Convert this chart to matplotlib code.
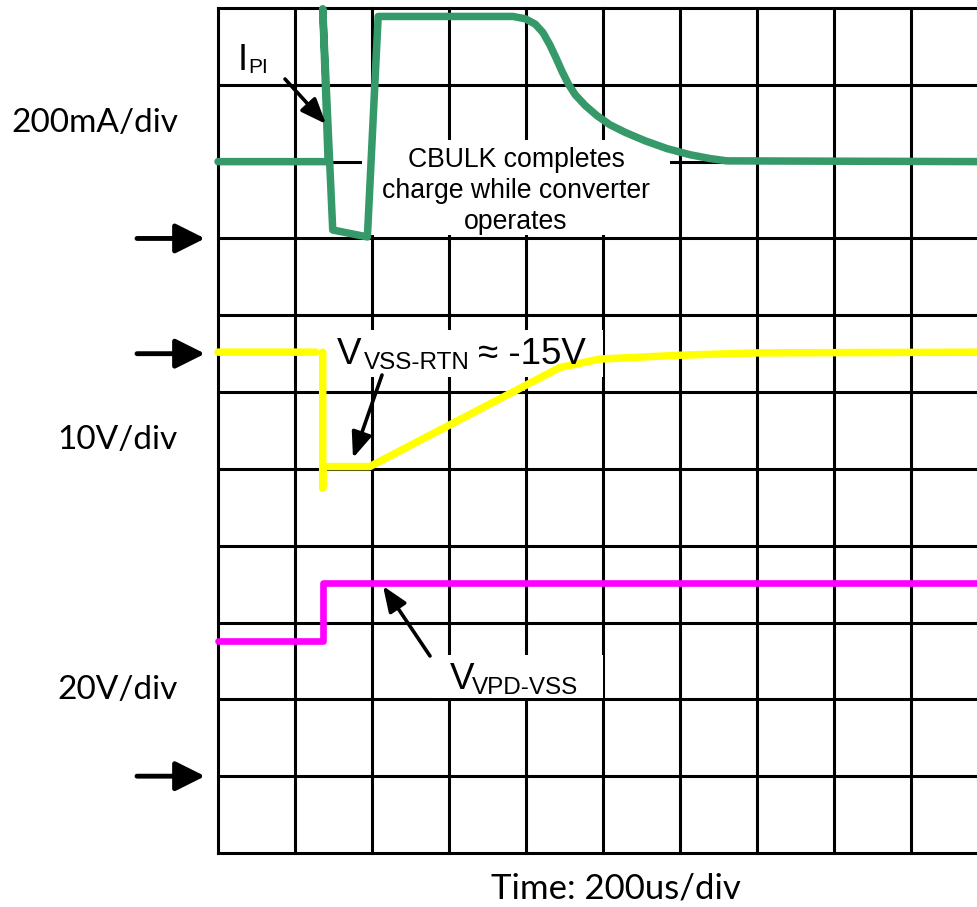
import numpy as np
import matplotlib
matplotlib.use("Agg")
import matplotlib.pyplot as plt
import matplotlib.transforms as mtransforms
from matplotlib.patches import Rectangle

# ---- data (in screen divisions) ----
t_ipi = [0, 1.43, 1.36, 1.49, 1.94, 2.08, 3.83, 3.99, 4.12, 4.22, 4.31, 4.39,
         4.47, 4.55, 4.64, 4.77, 4.92, 5.09, 5.29, 5.55, 5.83, 6.13, 6.39, 6.61, 10]
ipi = [9.0, 9.0, 10.99, 8.11, 8.02, 10.89, 10.89, 10.86, 10.79, 10.68, 10.52, 10.35,
       10.17, 10.01, 9.87, 9.73, 9.60, 9.48, 9.38, 9.27, 9.17, 9.09, 9.04, 9.01, 9.0]

t_vss = [0, 1.27, np.nan, 1.36, 1.36, 1.36, 1.97, 4.44, 4.96, 6.0, 7.0, 10]
vss = [6.52, 6.52, np.nan, 6.52, 4.75, 5.03, 5.03, 6.32, 6.43, 6.48, 6.51, 6.52]

t_vpd = [0, 1.36, 1.36, 10]
vpd = [2.76, 2.76, 3.52, 3.52]

gnd_levels = [8.0, 6.5, 1.0]
scale_labels = ["200mA/div", "10V/div", "20V/div"]
time_label = "Time: 200us/div"

W, H = 978, 907
fig = plt.figure(figsize=(W / 100, H / 100), dpi=100)
ax = fig.add_axes([218 / W, (H - 853) / H, (W - 218) / W, 845 / H])
ax.set_xlim(0, 760 / 77)
ax.set_ylim(0, 11)
ax.set_axis_off()

# image-pixel transform (y downward) for annotations
img = mtransforms.Affine2D().scale(1 / W, -1 / H).translate(0, 1) + fig.transFigure

grid_lw = 2.2
for i in range(0, 10):
    ax.axvline(i, color="black", lw=grid_lw, zorder=1, clip_on=False)
for j in range(0, 12):
    ax.axhline(j, color="black", lw=grid_lw, zorder=1, clip_on=False)

# white label boxes
for (x0, y0, w, h) in [(362, 140, 308, 95), (335, 330, 268, 47), (430, 655, 173, 43)]:
    ax.add_patch(Rectangle((x0, y0), w, h, transform=img, facecolor="white",
                           edgecolor="none", zorder=2, clip_on=False))

kw = dict(solid_capstyle="round", solid_joinstyle="round", clip_on=False, zorder=3)
ax.plot(t_ipi, ipi, color="#36996A", lw=5.4, **kw)
ax.plot(t_vss, vss, color="#FFFF00", lw=5.4, **kw)
ax.plot(t_vpd, vpd, color="#FF00FF", lw=4.8, **kw)

arial = "Liberation Sans"
# CBULK text
for s, yb in [("CBULK completes", 167), ("charge while converter", 198), ("operates", 229)]:
    ax.text(516, yb, s, transform=img, ha="center", va="baseline", fontsize=19.2,
            family=arial, zorder=4)

# I_PI
ax.text(238, 70, "I", transform=img, ha="left", va="baseline", fontsize=26, family=arial, zorder=4)
ax.text(248, 73, "PI", transform=img, ha="left", va="baseline", fontsize=15, family=arial, zorder=4)

# V_VSS-RTN ≈ -15V
ax.text(337, 364, "V", transform=img, ha="left", va="baseline", fontsize=26.5, family=arial, zorder=4)
ax.text(364, 369, "VSS-RTN", transform=img, ha="left", va="baseline", fontsize=17.5, family=arial, zorder=4)
ax.text(478, 364, "\u2248 -15V", transform=img, ha="left", va="baseline", fontsize=26.5, family=arial, zorder=4)

# V_VPD-VSS
ax.text(450, 689, "V", transform=img, ha="left", va="baseline", fontsize=26.5, family=arial, zorder=4)
ax.text(472, 694, "VPD-VSS", transform=img, ha="left", va="baseline", fontsize=17.5, family=arial, zorder=4)

# annotation arrows (image pixel coords)
ap = dict(arrowstyle="-|>,head_length=0.55,head_width=0.22", color="black", lw=2.6,
          shrinkA=0, shrinkB=0, mutation_scale=28)
for (x0, y0, x1, y1) in [(285, 79, 326, 124), (382, 375, 353, 458), (430, 656, 383, 586)]:
    ax.annotate("", xy=(x1, y1), xytext=(x0, y0), xycoords=img, textcoords=img,
                arrowprops=ap, zorder=5, annotation_clip=False)

# ground reference arrows
gp = dict(arrowstyle="-|>,head_length=0.5,head_width=0.25", color="black", lw=3.5,
          shrinkA=0, shrinkB=0, mutation_scale=36, capstyle="round")
for g in gnd_levels:
    ax.annotate("", xy=(205, g), xytext=(137, g),
                xycoords=("figure pixels", "data"), textcoords=("figure pixels", "data"),
                arrowprops=gp, annotation_clip=False)

# scale labels
for s, yb in zip(scale_labels, [132, 449, 699]):
    ax.text(178, yb, s, transform=img, ha="right", va="baseline", fontsize=24,
            family="Lato", zorder=4)
ax.text(616, 899, time_label, transform=img, ha="center", va="baseline", fontsize=25,
        family="Lato", zorder=4)

fig.savefig("out.png", dpi=100)
